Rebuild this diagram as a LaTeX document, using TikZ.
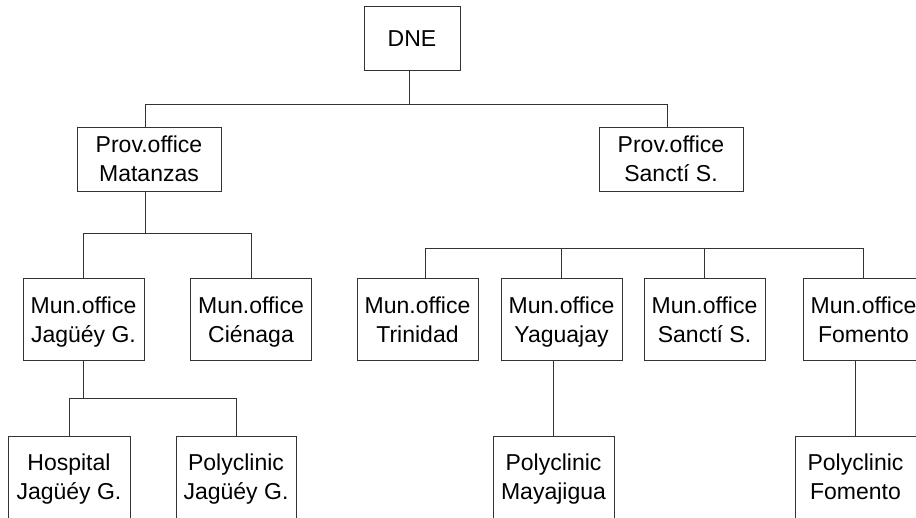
\documentclass[tikz,border=0pt]{standalone}
\usepackage{fontspec}
\setmainfont{Liberation Sans}
\newcommand\mystrut{\rule[-6pt]{0pt}{28pt}}
\begin{document}
\begin{tikzpicture}[x=1pt,y=-1pt,
  every node/.style={font=\fontsize{23}{29}\selectfont, align=center, inner sep=0pt},
  box/.style={draw=black!80, line width=1pt, minimum width=121pt, minimum height=82pt},
  pbox/.style={draw=black!80, line width=1pt, minimum width=144pt, minimum height=64pt},
  link/.style={draw=black!80, line width=1pt}]
\useasboundingbox (0,0) rectangle (916,517);
\clip (0,0) rectangle (916,517);
% level 0
\node[pbox, minimum width=96pt] (dne) at (412,38) {\mystrut DNE};
% level 1
\node[pbox] (mat) at (149,159) {\mystrut Prov.office\\\mystrut Matanzas};
\node[pbox] (ps) at (671,159) {\mystrut Prov.office\\\mystrut Sanctí S.};
% level 2
\node[box] (jag) at (83.5,319.5) {\mystrut Mun.office\\\mystrut Jagüéy G.};
\node[box] (cie) at (251,319.5) {\mystrut Mun.office\\\mystrut Ciénaga};
\node[box] (tri) at (417.5,319.5) {\mystrut Mun.office\\\mystrut Trinidad};
\node[box] (yag) at (561.5,319.5) {\mystrut Mun.office\\\mystrut Yaguajay};
\node[box] (ms) at (704.5,319.5) {\mystrut Mun.office\\\mystrut Sanctí S.};
\node[box] (fom) at (863.5,319.5) {\mystrut Mun.office\\\mystrut Fomento};
% level 3
\node[box, minimum width=122pt] (hosp) at (69,477) {\mystrut Hospital\\\mystrut Jagüéy G.};
\node[box, minimum width=120pt] (pjag) at (236,477) {\mystrut Polyclinic\\\mystrut Jagüéy G.};
\node[box] (maya) at (553.5,477) {\mystrut Polyclinic\\\mystrut Mayajigua};
\node[box] (pfom) at (855.5,477) {\mystrut Polyclinic\\\mystrut Fomento};
% bus levels
\coordinate (bus0) at (0,104);
\coordinate (bus1) at (0,233);
\coordinate (bus2) at (0,398);
\coordinate (bus3) at (0,248);
% connectors
\draw[link] ([xshift=-3pt]dne.south) -- ([xshift=-3pt]dne.south |- bus0);
\draw[link] ([xshift=-4pt]mat.north) |- ([xshift=-4pt]ps.north |- bus0) -- ([xshift=-4pt]ps.north);
\draw[link] ([xshift=-4pt]mat.south) -- ([xshift=-4pt]mat.south |- bus1);
\draw[link] (jag.north) |- (cie.north |- bus1) -- (cie.north);
\draw[link] (jag.south) -- (jag.south |- bus2);
\draw[link] (hosp.north) |- (pjag.north |- bus2) -- (pjag.north);
\draw[link] ([xshift=7.5pt]tri.north) |- (fom.north |- bus3) -- (fom.north);
\draw[link] (yag.north) -- (yag.north |- bus3);
\draw[link] (ms.north) -- (ms.north |- bus3);
\draw[link] (maya.north) -- (maya.north |- yag.south);
\draw[link] (pfom.north) -- (pfom.north |- fom.south);
\end{tikzpicture}
\end{document}
